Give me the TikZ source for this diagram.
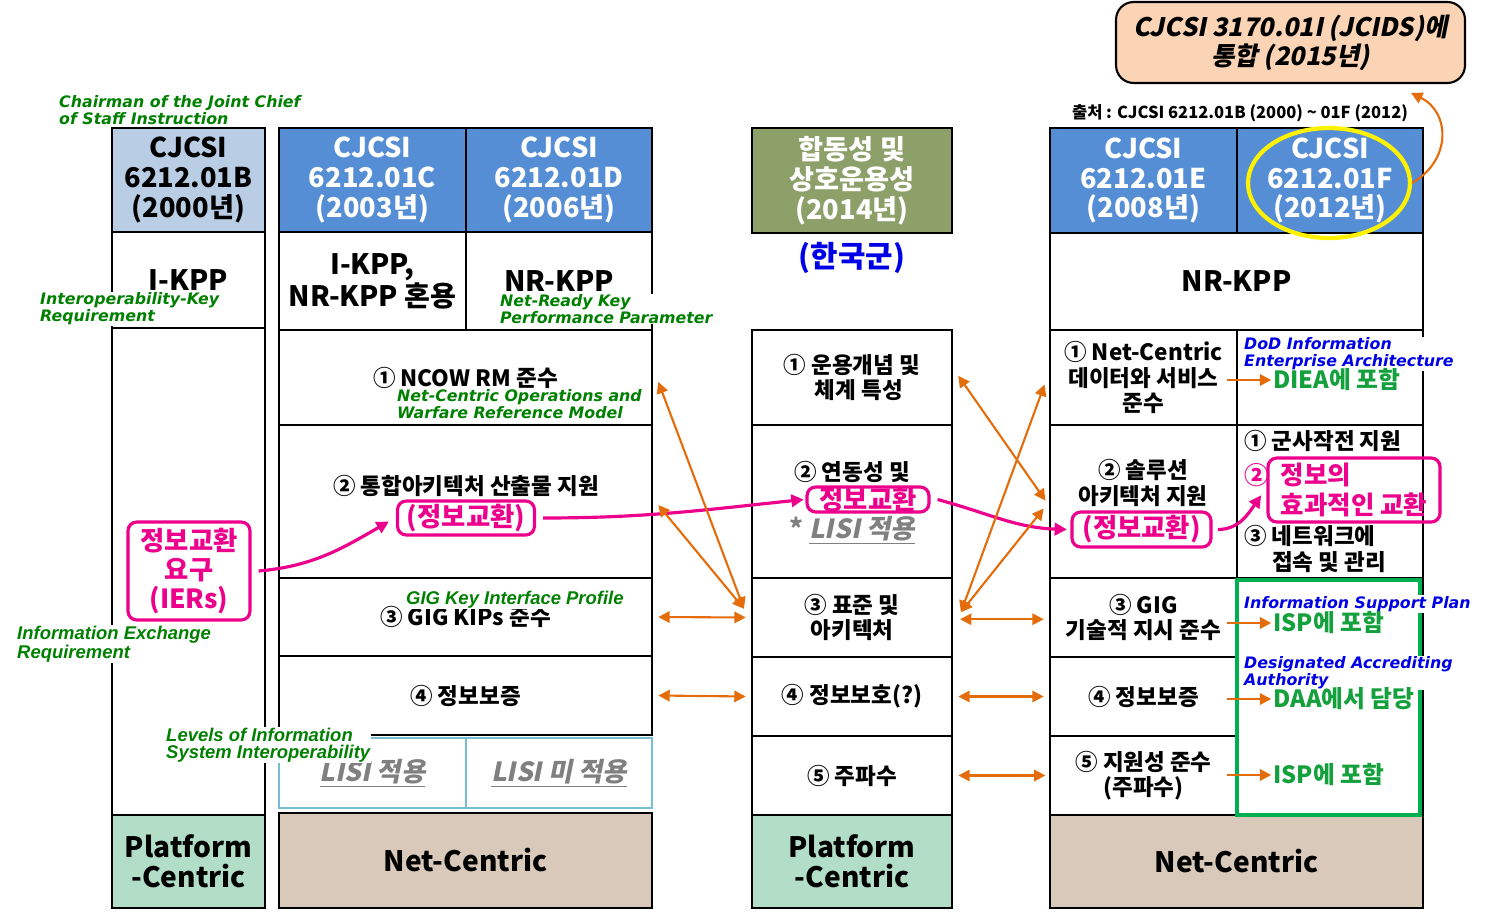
\documentclass[tikz,border=0pt]{standalone}
\usepackage{fontspec}
\setmainfont{Noto Sans CJK KR}
\newfontfamily\krslant{Noto Sans CJK KR}[FakeSlant=0.2]
\newfontfamily\verd{DejaVu Sans}
\newfontfamily\arial{Liberation Sans}
\usepackage{tikz}
\usetikzlibrary{arrows.meta,shapes.geometric,positioning}
\usepackage{xcolor}
\definecolor{hdblue}{RGB}{85,142,213}
\definecolor{hdlight}{RGB}{185,205,229}
\definecolor{hdolive}{RGB}{142,160,106}
\definecolor{pcmint}{RGB}{178,222,200}
\definecolor{nctan}{RGB}{216,201,186}
\definecolor{jcpeach}{RGB}{251,212,182}
\definecolor{lblgreen}{RGB}{0,128,0}
\definecolor{txtgreen}{RGB}{20,160,60}
\definecolor{boxgreen}{RGB}{0,176,80}
\definecolor{lblblue}{RGB}{0,0,230}
\definecolor{arrorange}{RGB}{228,108,10}
\definecolor{lisiblue}{RGB}{120,190,210}
\definecolor{lisigrey}{RGB}{128,128,128}
\newcommand{\headfont}{\fontsize{15.5}{17}\selectfont\bfseries}
\newcommand{\cellfont}{\fontsize{12.8}{14.3}\selectfont\bfseries}
\newcommand{\bigfont}{\fontsize{16}{17}\selectfont\bfseries}
\newcommand{\notefont}{\fontsize{9}{9.6}\selectfont\verd\bfseries\itshape}
\newcommand{\arnotefont}{\fontsize{10.5}{9.7}\selectfont\arial\bfseries\itshape}
\newcommand{\lisifont}{\fontsize{15}{17}\selectfont\krslant\bfseries}
\newcommand{\pinkfont}{\fontsize{15}{16.5}\selectfont\bfseries}
\newcommand{\greenfont}{\fontsize{13.5}{15}\selectfont\bfseries}
\newcommand{\jcfont}{\fontsize{14.5}{16.5}\selectfont\krslant\bfseries}
\newcommand{\srcfont}{\fontsize{9.4}{11}\selectfont\bfseries}
\newcommand{\krfont}{\fontsize{17}{19}\selectfont\bfseries}
\tikzstyle{cell} = [rectangle, draw=black, line width=1.2pt, inner sep=0pt, align=center, font=\cellfont]
\tikzstyle{headcell} = [cell, font=\headfont, text=white, fill=hdblue]
\tikzstyle{lisicell} = [rectangle, draw=lisiblue, line width=1pt, inner sep=0pt, text=lisigrey, font=\lisifont]
\tikzstyle{lblnote} = [align=left, anchor=west, inner sep=0.5pt, fill=white, text=lblgreen, font=\notefont]
\tikzstyle{bluenote} = [lblnote, text=lblblue]
\tikzstyle{greentext} = [anchor=west, inner sep=0pt, text=txtgreen, font=\greenfont]
\tikzstyle{pinkbox} = [rectangle, rounded corners=5pt, draw=magenta, line width=1.8pt, text=magenta, font=\pinkfont, align=center, inner sep=1pt]
\tikzstyle{pinkarrow} = [line width=1.8pt, magenta, -{Triangle[length=7pt,width=7pt]}]
\tikzstyle{orarrow} = [line width=1.2pt, color=arrorange, -{Triangle[length=6.5pt,width=6.5pt]}]
\tikzstyle{dblarrow} = [orarrow, {Triangle[length=6.5pt,width=6.5pt]}-{Triangle[length=6.5pt,width=6.5pt]}]

\begin{document}
\begin{tikzpicture}[x=0.02cm, y=-0.02cm]
\useasboundingbox (0,0) rectangle (1487,912);

% CJCSI 6212.01B column
\node (hb) [headcell, fill=hdlight, text=black, minimum width=3.06cm, minimum height=2.08cm] at (188.5,180) {CJCSI\\6212.01B\\(2000년)};
\node (b1) [cell, font=\bigfont, minimum width=3.06cm, minimum height=1.92cm] at (188.5,280) {I-KPP};
\node (b2) [cell, minimum width=3.06cm, minimum height=9.74cm] at (188.5,571.5) {};
\node (b3) [cell, font=\bigfont, fill=pcmint, minimum width=3.06cm, minimum height=1.86cm] at (188.5,861.5) {Platform\\-Centric};

% 01C / 01D columns
\node (hc) [headcell, minimum width=3.74cm, minimum height=2.08cm] at (372.5,180) {CJCSI\\6212.01C\\(2003년)};
\node (hd) [headcell, minimum width=3.72cm, minimum height=2.08cm] at (559,180) {CJCSI\\6212.01D\\(2006년)};
\node (c1) [cell, font=\bigfont, minimum width=3.74cm, minimum height=1.96cm] at (372.5,281) {I-KPP,\\NR-KPP 혼용};
\node (d1) [cell, font=\bigfont, minimum width=3.72cm, minimum height=1.96cm] at (559,281) {NR-KPP};
\node (cd2) [cell, minimum width=7.46cm, minimum height=1.9cm] at (465.5,377.5) {① NCOW RM 준수};
\node (cd3) [cell, minimum width=7.46cm, minimum height=3.06cm] at (465.5,501.5) {};
\node (cd3t) [font=\cellfont] at (466,486) {② 통합아키텍처 산출물 지원};
\node (x1) [pinkbox, minimum width=2.74cm, minimum height=0.68cm] at (466,518) {(정보교환)};
\node (cd4) [cell, minimum width=7.46cm, minimum height=1.56cm] at (465.5,617) {③ GIG KIPs 준수};
\node (cd5) [cell, minimum width=7.46cm, minimum height=1.58cm] at (465.5,695.5) {④ 정보보증};
\node (c6) [lisicell, minimum width=3.74cm, minimum height=1.4cm] at (372.5,773) {\underline{LISI 적용}};
\node (d6) [lisicell, minimum width=3.72cm, minimum height=1.4cm] at (559,773) {\underline{LISI 미 적용}};
\node (cd7) [cell, font=\bigfont, fill=nctan, minimum width=7.46cm, minimum height=1.9cm] at (465.5,860.5) {Net-Centric};

% Korean column
\node (hk) [headcell, fill=hdolive, minimum width=4cm, minimum height=2.1cm] at (852,180.5) {합동성 및\\상호운용성\\(2014년)};
\node (kr) [font=\krfont, text=lblblue] at (852,258) {(한국군)};
\node (k1) [cell, minimum width=4cm, minimum height=1.9cm] at (852,377.5) {① 운용개념 및\\\hspace*{0.6em}체계 특성};
\node (k2) [cell, minimum width=4cm, minimum height=3.06cm] at (852,501.5) {};
\node (k2t) [font=\cellfont] at (852,472) {② 연동성 및};
\node (x2) [pinkbox, minimum width=2.44cm, minimum height=0.5cm, inner sep=0pt] at (868,499.5) {정보교환};
\node (k2l) [font=\lisifont, text=lisigrey] at (852,530) {{\upshape\normalfont\bfseries *} \underline{LISI 적용}};
\node (k3) [cell, minimum width=4cm, minimum height=1.58cm] at (852,617.5) {③ 표준 및\\아키텍처};
\node (k4) [cell, minimum width=4cm, minimum height=1.58cm] at (852,696.5) {④ 정보보호(?)};
\node (k5) [cell, minimum width=4cm, minimum height=1.58cm] at (852,775.5) {⑤ 주파수};
\node (k6) [cell, font=\bigfont, fill=pcmint, minimum width=4cm, minimum height=1.86cm] at (852,861.5) {Platform\\-Centric};

% 01E / 01F columns
\node (he) [headcell, minimum width=3.74cm, minimum height=2.1cm] at (1143.5,180.5) {CJCSI\\6212.01E\\(2008년)};
\node (hf) [headcell, minimum width=3.72cm, minimum height=2.1cm] at (1330,180.5) {CJCSI\\6212.01F\\(2012년)};
\node (ef1) [cell, font=\bigfont, minimum width=7.46cm, minimum height=1.94cm] at (1236.5,281.5) {NR-KPP};
\node (e2) [cell, minimum width=3.74cm, minimum height=1.9cm] at (1143.5,377.5) {① Net-Centric\\데이터와 서비스\\준수};
\node (f2) [cell, minimum width=3.72cm, minimum height=1.9cm] at (1330,377.5) {};
\node (e3) [cell, minimum width=3.74cm, minimum height=3.06cm] at (1143.5,501.5) {};
\node (e3t) [font=\cellfont, align=center] at (1143,483) {② 솔루션\\아키텍처 지원};
\node (x3) [pinkbox, minimum width=2.78cm, minimum height=0.7cm] at (1141.5,529.5) {(정보교환)};
\node (f3) [cell, minimum width=3.72cm, minimum height=3.06cm] at (1330,501.5) {};
\node (f3a) [font=\cellfont, anchor=west, inner sep=0pt] at (1244,441) {① 군사작전 지원};
\node (f3b) [font=\fontsize{14}{15}\selectfont\bfseries, text=magenta, anchor=west, inner sep=0pt] at (1244,475) {②};
\node (x4) [pinkbox, font=\fontsize{14.5}{17}\selectfont\bfseries, align=left, minimum width=3.44cm, minimum height=1.28cm] at (1354,490) {정보의\\효과적인 교환};
\node (f3c) [font=\cellfont, anchor=west, align=left, inner sep=0pt] at (1244,549) {③ 네트워크에\\\phantom{③ }접속 및 관리};
\node (e4) [cell, minimum width=3.74cm, minimum height=1.58cm] at (1143.5,617.5) {③ GIG\\기술적 지시 준수};
\node (e5) [cell, minimum width=3.74cm, minimum height=1.58cm] at (1143.5,696.5) {④ 정보보증};
\node (e6) [cell, minimum width=3.74cm, minimum height=1.58cm] at (1143.5,775.5) {⑤ 지원성 준수\\(주파수)};
\node (f4) [cell, minimum width=3.72cm, minimum height=4.74cm] at (1330,696.5) {};
\node (ef7) [cell, font=\bigfont, fill=nctan, minimum width=7.46cm, minimum height=1.86cm] at (1236.5,861.5) {Net-Centric};
\node (grn) [rectangle, draw=boxgreen, line width=2.3pt, minimum width=3.66cm, minimum height=4.7cm] at (1328.5,697.5) {};

% top box and source
\node (jcids) [rectangle, rounded corners=10pt, draw=black, line width=1.2pt, fill=jcpeach, minimum width=6.98cm, minimum height=1.62cm, align=center, font=\jcfont] at (1290.5,42.5) {CJCSI 3170.01I (JCIDS)에\\통합 (2015년)};
\node (src) [font=\srcfont] at (1240,113) {출처 : CJCSI 6212.01B (2000) \textasciitilde{} 01F (2012)};
\node (circ) [ellipse, draw=yellow, line width=2.4pt, minimum width=3.24cm, minimum height=2.2cm] at (1329,183) {};
\coordinate (jtip) at (1411,93);
\draw[orarrow] (circ.east) .. controls (1452,160) and (1450,112) .. (jtip);

% IER box
\node (ier) [pinkbox, minimum width=2.44cm, minimum height=1.96cm, font=\fontsize{15}{16.5}\selectfont\bfseries] at (189,571) {정보교환\\요구\\(IERs)};

% green and blue notes
\node (lcjcsi) [lblnote, font=\fontsize{9}{8}\selectfont\verd\bfseries\itshape] at (58,110) {Chairman of the Joint Chief\\of Staff Instruction};
\node (likr) [lblnote] at (39,309) {Interoperability-Key\\Requirement};
\node (lnr) [lblnote] at (499,309) {Net-Ready Key\\Performance Parameter};
\node (lncow) [lblnote] at (396,404) {Net-Centric Operations and\\Warfare Reference Model};
\node (lgig) [lblnote, font=\arnotefont] at (405,600) {GIG Key Interface Profile};
\node (lier) [lblnote, font=\arnotefont] at (16,644) {Information Exchange\\Requirement};
\node (llisi) [lblnote, font=\arnotefont] at (165,745) {Levels of Information\\System Interoperability};
\node (ldiea) [bluenote] at (1243,354) {DoD Information\\Enterprise Architecture};
\node (lisp) [bluenote] at (1243,604) {Information Support Plan};
\node (ldaa) [bluenote] at (1243,673) {Designated Accrediting\\Authority};

% green results
\node (diea) [greentext] at (1273,380) {DIEA에 포함};
\node (isp1) [greentext] at (1273,623) {ISP에 포함};
\node (daa) [greentext] at (1273,699) {DAA에서 담당};
\node (isp2) [greentext] at (1273,775) {ISP에 포함};
\draw[orarrow] ([xshift=-26pt]diea.west) -- ([xshift=-1pt]diea.west);
\draw[orarrow] ([xshift=-26pt]isp1.west) -- ([xshift=-1pt]isp1.west);
\draw[orarrow] ([xshift=-26pt]daa.west) -- ([xshift=-1pt]daa.west);
\draw[orarrow] ([xshift=-26pt]isp2.west) -- ([xshift=-1pt]isp2.west);

% exchange flow
\draw[pinkarrow] ([xshift=4pt]ier.east) to[out=5,in=-150] ([shift={(-4pt,-2pt)}]x1.west);
\draw[pinkarrow] ([xshift=4pt]x1.east) to[out=0,in=186] ([xshift=-1pt]x2.west);
\draw[pinkarrow] ([xshift=4pt]x2.east) to[out=-15,in=178] ([xshift=-2pt]x3.west);
\draw[pinkarrow] ([xshift=3pt]x3.east) to[out=0,in=-125] ([shift={(-3pt,-3pt)}]x4.west);

% links between columns
\draw[dblarrow] ([shift={(-4pt,5pt)}]k3.west) -- ([shift={(3pt,-2.5pt)}]cd2.east);
\draw[dblarrow] ([shift={(-4pt,5pt)}]k3.west) -- ([shift={(3pt,-2pt)}]cd3.east);
\draw[dblarrow] ([xshift=3pt]cd4.east) -- ([xshift=-3pt]k3.west);
\draw[dblarrow] ([xshift=3pt]cd5.east) -- ([xshift=-3pt]k4.west);
\draw[dblarrow] ([shift={(3pt,1pt)}]k1.east) -- ([shift={(-2pt,0.5pt)}]e3.west);
\draw[dblarrow] ([shift={(-2.5pt,-4pt)}]e2.west) -- ([shift={(4.5pt,3pt)}]k3.east);
\draw[dblarrow] ([shift={(-3pt,-4pt)}]e3.west) -- ([shift={(4.5pt,3pt)}]k3.east);
\draw[dblarrow] ([shift={(4pt,-1pt)}]k3.east) -- ([shift={(-3pt,-1pt)}]e4.west);
\draw[dblarrow] ([xshift=3pt]k4.east) -- ([xshift=-3pt]e5.west);
\draw[dblarrow] ([xshift=3pt]k5.east) -- ([xshift=-2pt]e6.west);
\end{tikzpicture}
\end{document}
